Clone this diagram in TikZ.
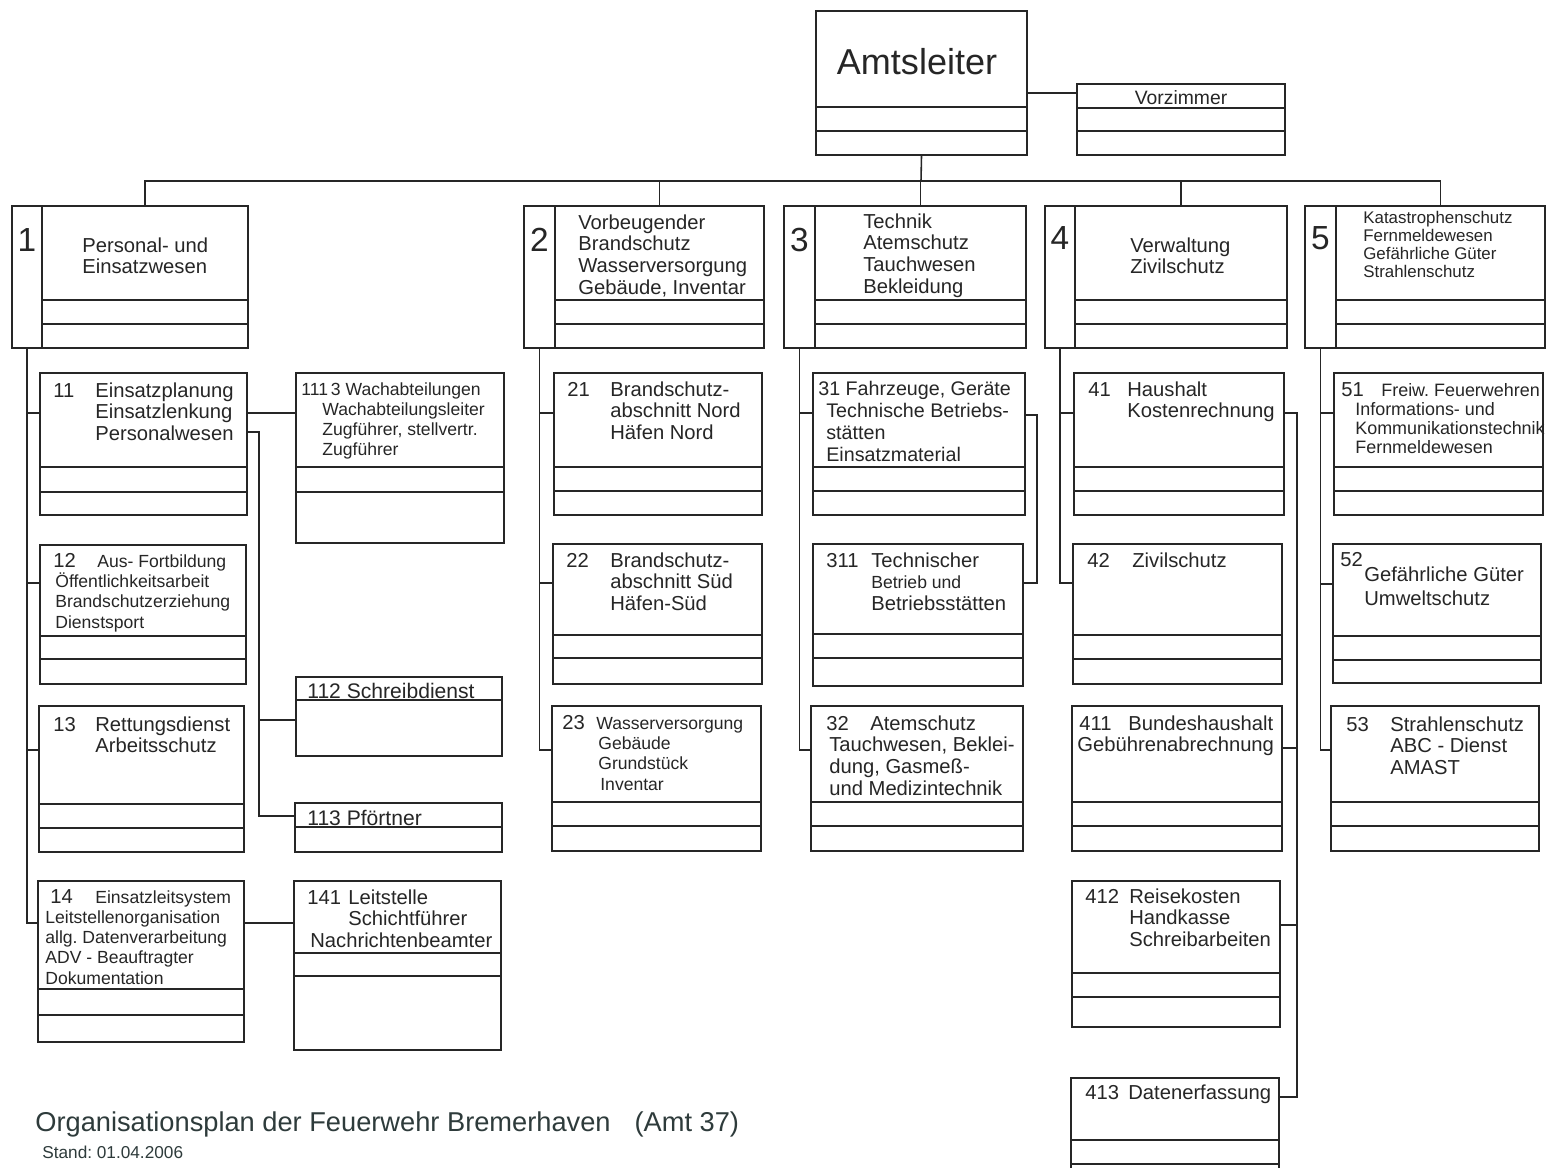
\documentclass[tikz,border=0pt]{standalone}
\usepackage{fontspec}
\setmainfont{Liberation Sans}
\usetikzlibrary{fit}
\frenchspacing

\definecolor{ink}{HTML}{262626}
\definecolor{titleink}{HTML}{2E3B3B}

\newlength\pxu
\setlength\pxu{0.2mm}
\newcommand\fa{\fontsize{11.5}{12.5}\selectfont}
\newcommand\fb{\fontsize{10}{11.5}\selectfont}
\newcommand\fc{\fontsize{9.6}{10.2}\selectfont}
\newcommand\numcol[2]{\makebox[#1\pxu][l]{#2}}
\newcommand\indpx[1]{\hspace*{#1\pxu}}

% box with two (or one) divider lines: name, x1, y1, x2, y2, dividers
\newcommand\orgbox[6]{%
  \node[orgbox, fit={(#2,#3) (#4,#5)}] (#1) {};
  \foreach \dv in {#6} \draw[line] (#2,\dv) -- (#4,\dv);
}

\tikzset{
  line/.style={draw=ink, line width=0.9pt},
  orgbox/.style={draw=ink, line width=0.9pt, inner sep=0pt, rectangle},
  txt/.style={anchor=north west, inner sep=0pt, align=left, font=\fa, text=ink},
  nr/.style={anchor=center, inner sep=0pt, font=\fontsize{19}{20}\selectfont, text=ink}
}

\begin{document}
\begin{tikzpicture}[x=0.2mm, y=-0.2mm]
  \fill[white] (0,0) rectangle (1548,1167);
  \useasboundingbox (0,0) rectangle (1548,1167);
  \clip (0,0) rectangle (1548,1167);

  % head
  \orgbox{al}{816}{11}{1027}{155}{107,131}
  \orgbox{vz}{1077}{84}{1285}{155}{108,131}
  \node[txt, anchor=center, font=\fontsize{20.5}{24}\selectfont] (tal) at (917,62) {Amtsleiter};
  \node[txt, anchor=center, font=\fontsize{11}{12}\selectfont] (tvz) at (1181,98) {Vorzimmer};

  % departments
  \orgbox{d1}{42}{206}{248}{348}{300,324}
  \orgbox{d2}{555}{206}{764}{348}{300,324}
  \orgbox{d3}{815}{206}{1026}{348}{300,324}
  \orgbox{d4}{1075}{206}{1287}{348}{300,324}
  \orgbox{d5}{1336}{206}{1545}{348}{300,324}
  \node[orgbox, fit={(12,206) (42,348)}] (c1) {};
  \node[orgbox, fit={(524,206) (555,348)}] (c2) {};
  \node[orgbox, fit={(784,206) (815,348)}] (c3) {};
  \node[orgbox, fit={(1045,206) (1075,348)}] (c4) {};
  \node[orgbox, fit={(1305,206) (1336,348)}] (c5) {};

  \node[nr] (n1) at (c1 |- 0,240) {1};
  \node[nr] (n2) at (c2 |- 0,240) {2};
  \node[nr] (n3) at (c3 |- 0,240) {3};
  \node[nr] (n4) at (c4 |- 0,238) {4};
  \node[nr] (n5) at (c5 |- 0,238) {5};

  \node[txt] (t1) at (82,237) {Personal- und\\Einsatzwesen};
  \node[txt] (t2) at (578,214) {Vorbeugender\\Brandschutz\\Wasserversorgung\\Gebäude, Inventar};
  \node[txt] (t3) at (863,213) {Technik\\Atemschutz\\Tauchwesen\\Bekleidung};
  \node[txt] (t4) at (1130,237) {Verwaltung\\Zivilschutz};
  \node[txt, font=\fc] (t5) at (1363,211) {Katastrophenschutz\\Fernmeldewesen\\Gefährliche Güter\\Strahlenschutz};

  % column 1
  \orgbox{b11}{40}{373}{247}{515}{467,492}
  \orgbox{b12}{40}{545}{246}{684}{636,659}
  \orgbox{b13}{39}{706}{244}{852}{804,828}
  \orgbox{b14}{38}{881}{244}{1042}{989,1015}
  \orgbox{b111}{296}{373}{504}{543}{467,492}
  \orgbox{b112}{296}{677}{502}{756}{700}
  \orgbox{b113}{295}{803}{502}{852}{827}
  \orgbox{b141}{294}{881}{501}{1050}{953,976}

  \node[txt] (t11) at (53,382) {\numcol{42}{11}Einsatzplanung\\\indpx{42}Einsatzlenkung\\\indpx{42}Personalwesen};
  \node[txt, font=\fb] (t12) at (53,553) {\numcol{44}{\fa 12}Aus- Fortbildung\\\indpx{2}Öffentlichkeitsarbeit\\\indpx{2}Brandschutzerziehung\\\indpx{2}Dienstsport};
  \node[txt] (t13) at (53,716) {\numcol{42}{13}Rettungsdienst\\\indpx{42}Arbeitsschutz};
  \node[txt, font=\fb] (t14) at (45,889) {\indpx{5}\numcol{45}{\fa 14}Einsatzleitsystem\\Leitstellenorganisation\\allg. Datenverarbeitung\\ADV - Beauftragter\\Dokumentation};
  \node[txt, font=\fb] (t111) at (301,382) {111\,3 Wachabteilungen\\\indpx{21}Wachabteilungsleiter\\\indpx{21}Zugführer, stellvertr.\\\indpx{21}Zugführer};
  \node[txt, font=\fontsize{12}{13}\selectfont] (t112) at (307,683) {112 Schreibdienst};
  \node[txt, font=\fontsize{12}{13}\selectfont] (t113) at (307,810) {113 Pförtner};
  \node[txt] (t141) at (307,889) {\numcol{41}{141}Leitstelle\\\indpx{41}Schichtführer\\\indpx{3}Nachrichtenbeamter};

  % column 2
  \orgbox{b21}{554}{373}{762}{515}{467,491}
  \orgbox{b22}{553}{544}{762}{684}{635,658}
  \orgbox{b23}{552}{706}{761}{851}{802,826}
  \node[txt] (t21) at (567,381) {\numcol{43}{21}Brandschutz-\\\indpx{43}abschnitt Nord\\\indpx{43}Häfen Nord};
  \node[txt] (t22) at (566,552) {\numcol{44}{22}Brandschutz-\\\indpx{44}abschnitt Süd\\\indpx{44}Häfen-Süd};
  \node[txt, font=\fb] (t23) at (562,715) {\numcol{34}{\fa 23}Wasserversorgung\\\indpx{36}Gebäude\\\indpx{36}Grundstück\\\indpx{38}Inventar};

  % column 3
  \orgbox{b31}{813}{373}{1025}{515}{467,491}
  \orgbox{b311}{813}{544}{1023}{686}{634,658}
  \orgbox{b32}{811}{706}{1023}{851}{802,826}
  \node[txt, font=\fontsize{11.2}{12.5}\selectfont] (t31) at (818,381) {31 Fahrzeuge, Geräte\\\indpx{8}Technische Betriebs-\\\indpx{8}stätten\\\indpx{8}Einsatzmaterial};
  \node[txt] (t311) at (826,552) {\numcol{45}{311}Technischer\\\indpx{45}{\fb Betrieb und}\\\indpx{45}Betriebsstätten};
  \node[txt] (t32) at (826,715) {\numcol{44}{32}Atemschutz\\\indpx{3}Tauchwesen, Beklei-\\\indpx{3}dung, Gasmeß-\\\indpx{3}und Medizintechnik};

  % column 4
  \orgbox{b41}{1074}{373}{1284}{515}{467,491}
  \orgbox{b42}{1073}{544}{1282}{684}{635,659}
  \orgbox{b411}{1072}{706}{1282}{851}{802,826}
  \orgbox{b412}{1072}{881}{1280}{1027}{973,997}
  \orgbox{b413}{1071}{1078}{1279}{1190}{1140,1164}
  \node[txt] (t41) at (1088,381) {\numcol{39}{41}Haushalt\\\indpx{39}Kostenrechnung};
  \node[txt] (t42) at (1087,552) {\numcol{45}{42}Zivilschutz};
  \node[txt] (t411) at (1077,715) {\indpx{2}\numcol{49}{411}Bundeshaushalt\\Gebührenabrechnung};
  \node[txt] (t412) at (1085,888) {\numcol{44}{412}Reisekosten\\\indpx{44}Handkasse\\\indpx{44}Schreibarbeiten};
  \node[txt] (t413) at (1085,1085) {\numcol{43}{413}Datenerfassung};

  % column 5
  \orgbox{b51}{1334}{373}{1543}{515}{467,491}
  \orgbox{b52}{1333}{544}{1541}{683}{636,660}
  \orgbox{b53}{1331}{706}{1539}{851}{802,826}
  \node[txt, font=\fontsize{10.2}{10.8}\selectfont] (t51) at (1341,382) {\numcol{40}{\fa 51}Freiw. Feuerwehren\\\indpx{14}Informations- und\\\indpx{14}Kommunikationstechnik\\\indpx{14}Fernmeldewesen};
  \node[txt] (t52n) at (1340,552) {52};
  \node[txt, font=\fontsize{11.5}{14.2}\selectfont] (t52) at (1364,566) {Gefährliche Güter\\Umweltschutz};
  \node[txt] (t53) at (1346,716) {\numcol{44}{53}Strahlenschutz\\\indpx{44}ABC - Dienst\\\indpx{44}AMAST};

  % connectors
  \coordinate (bus) at (921,181);
  \draw[line] (al.east |- 0,93) -- (vz.west |- 0,93);
  \draw[line] (al.south) -- (bus);
  \draw[line] (d1.north) |- (bus) -| (d5.north);
  \foreach \d in {d2,d3,d4} \draw[line] (\d.north) -- (\d.north |- bus);

  \draw[line] (c1.south) |- (b14.west |- 0,923);
  \foreach \b/\y in {b11/413, b12/583, b13/750} \draw[line] (c1.south |- 0,\y) -- (\b.west |- 0,\y);
  \draw[line] (b11.east |- 0,413) -- (b111.west |- 0,413);
  \coordinate (k11) at (259,432);
  \draw[line] (b11.east |- k11) -- (k11) |- (b113.west |- 0,816);
  \draw[line] (k11 |- 0,720) -- (b112.west |- 0,720);
  \draw[line] (b14.east |- 0,923) -- (b141.west |- 0,923);

  \draw[line] (c2.south) |- (b23.west |- 0,750);
  \foreach \b/\y in {b21/413, b22/583} \draw[line] (c2.south |- 0,\y) -- (\b.west |- 0,\y);

  \draw[line] (c3.south) |- (b32.west |- 0,750);
  \draw[line] (c3.south |- 0,413) -- (b31.west |- 0,413);
  \coordinate (k31) at (1037,415);
  \draw[line] (b31.east |- k31) -- (k31) |- (b311.east |- 0,583);

  \draw[line] (c4.south) |- (b42.west |- 0,583);
  \draw[line] (c4.south |- 0,413) -- (b41.west |- 0,413);
  \coordinate (k41) at (1297,413);
  \draw[line] (b41.east |- k41) -- (k41) |- (b413.east |- 0,1097);
  \foreach \b/\y in {b411/748, b412/925} \draw[line] (k41 |- 0,\y) -- (\b.east |- 0,\y);

  \draw[line] (c5.south) |- (b53.west |- 0,750);
  \foreach \b/\y in {b51/413, b52/584} \draw[line] (c5.south |- 0,\y) -- (\b.west |- 0,\y);

  % caption
  \node[txt, font=\fontsize{15.5}{17}\selectfont, text=titleink] (title) at (35,1111) {Organisationsplan der Feuerwehr Bremerhaven\hspace{24\pxu}(Amt 37)};
  \node[txt, font=\fontsize{9.8}{11}\selectfont, text=titleink] (stand) at (42,1146) {Stand: 01.04.2006};
\end{tikzpicture}
\end{document}
